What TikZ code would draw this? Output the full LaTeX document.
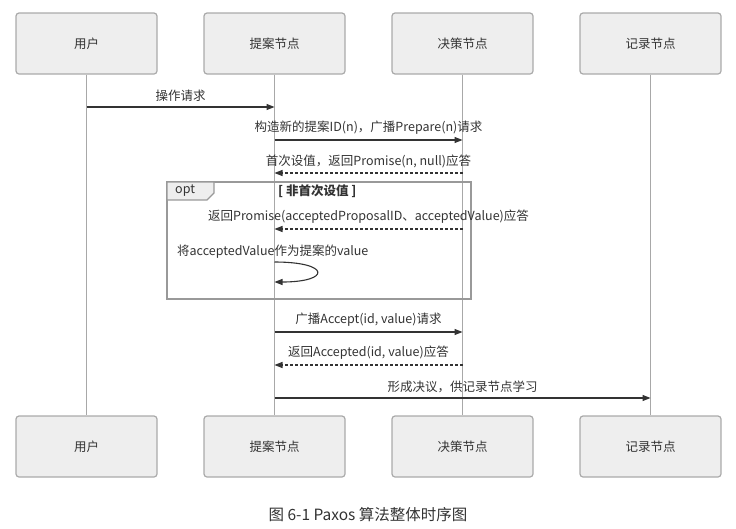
\documentclass[tikz,border=0pt]{standalone}
\usepackage{fontspec}
\setmainfont{Noto Sans CJK SC}
\usetikzlibrary{arrows.meta}
\definecolor{boxfill}{HTML}{EEEEEE}
\definecolor{boxline}{HTML}{AAAAAA}
\definecolor{lifeline}{HTML}{A8A8A8}
\definecolor{msgline}{HTML}{333333}
\definecolor{txt}{HTML}{333333}
\definecolor{optline}{HTML}{999999}
\tikzset{
  actor/.style={draw=boxline, line width=1.2pt, fill=boxfill, rounded corners=3pt,
    minimum width=141pt, minimum height=61pt, inner sep=0pt, text=txt,
    font=\fontsize{12.5}{14}\selectfont},
  life/.style={draw=lifeline, line width=0.8pt},
  msg/.style={draw=msgline, line width=1.1pt, -{Triangle[length=8pt,width=6pt]}},
  ret/.style={msg, dash pattern=on 3pt off 2pt},
  lbl/.style={text=txt, font=\fontsize{12.5}{14}\selectfont, inner sep=0pt},
}
\begin{document}
\begin{tikzpicture}[x=1pt,y=-1pt]
\useasboundingbox (0,0) rectangle (736,528);
% actors top
\node[actor] (u1) at (86.5,43.5) {用户};
\node[actor] (p1) at (274.5,43.5) {提案节点};
\node[actor] (d1) at (462.5,43.5) {决策节点};
\node[actor] (r1) at (650.5,43.5) {记录节点};
% actors bottom
\node[actor] (u2) at (86.5,446.5) {用户};
\node[actor] (p2) at (274.5,446.5) {提案节点};
\node[actor] (d2) at (462.5,446.5) {决策节点};
\node[actor] (r2) at (650.5,446.5) {记录节点};
% lifelines
\draw[life] (u1.south) -- (u2.north);
\draw[life] (p1.south) -- (p2.north);
\draw[life] (d1.south) -- (d2.north);
\draw[life] (r1.south) -- (r2.north);
% anchor coordinates
\foreach \n/\x in {u/86.5,p/274.5,d/462.5,r/650.5}{
  \foreach \y in {107,140,173,229,262,282,332,365,398}{
    \coordinate (\n\y) at (\x,\y);
  }
}
% opt frame
\draw[optline, line width=1.5pt] (167,182) coordinate (optnw) rectangle (471,299) coordinate (optse);
\draw[optline, line width=1.2pt, fill=boxfill] (167,182) -- (214,182) -- (214,193) -- (207,200) -- (167,200) -- cycle;
\node[lbl, anchor=west] (opttag) at (175,191) {opt};
\node[lbl, anchor=west, font=\fontsize{12.5}{14}\selectfont\bfseries] (cond) at (278,191) {[ 非首次设值 ]};
% messages
\draw[msg] (u107) -- node[lbl, above=5pt] (m1) {操作请求} (p107);
\draw[msg] (p140) -- node[lbl, above=5pt] (m2) {构造新的提案ID(n)，广播Prepare(n)请求} (d140);
\draw[ret] (d173) -- node[lbl, above=5pt] (m3) {首次设值，返回Promise(n, null)应答} (p173);
\draw[ret] (d229) -- node[lbl, above=5pt] (m4) {返回Promise(acceptedProposalID、acceptedValue)应答} (p229);
\node[lbl, anchor=west] (m5) at (177,251.5) {将acceptedValue作为提案的value};
\draw[msg] (p262) .. controls (331,262) and (331,282) .. (p282);
\draw[msg] (p332) -- node[lbl, above=5pt] (m6) {广播Accept(id, value)请求} (d332);
\draw[ret] (d365) -- node[lbl, above=5pt] (m7) {返回Accepted(id, value)应答} (p365);
\draw[msg] (p398) -- node[lbl, above=5pt] (m8) {形成决议，供记录节点学习} (r398);
% caption
\node[text=txt, font=\fontsize{15.5}{18}\selectfont, inner sep=0pt] (cap) at (368,515) {图 6-1 Paxos 算法整体时序图};
\end{tikzpicture}
\end{document}
